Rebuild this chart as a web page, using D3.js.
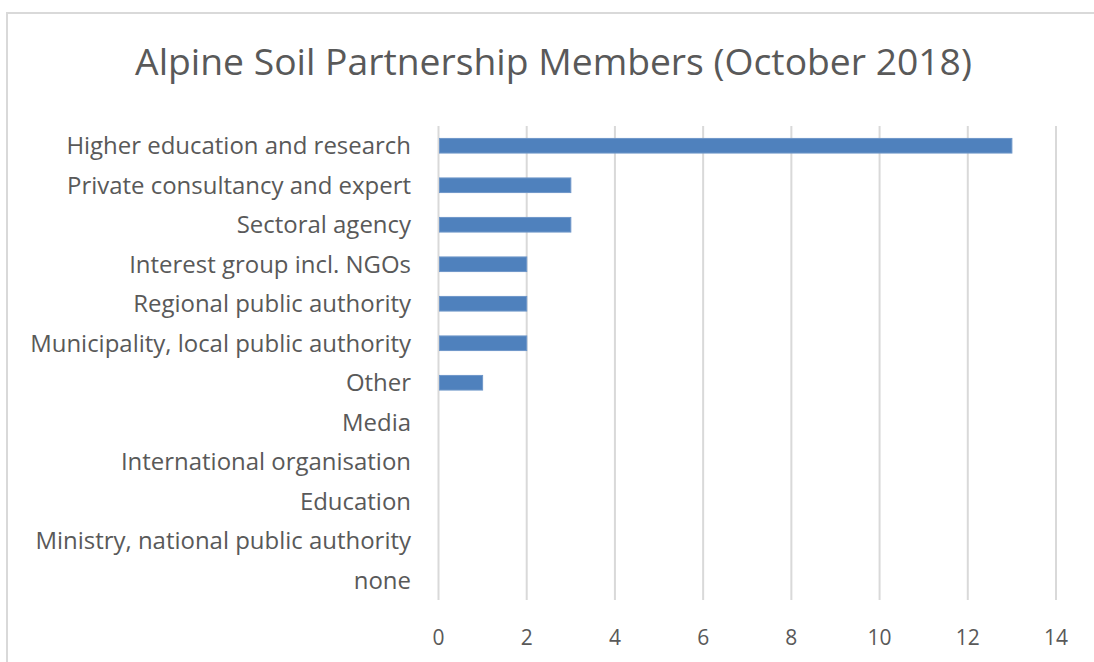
<!DOCTYPE html>
<html>
<head>
<meta charset="utf-8">
<script src="https://cdn.jsdelivr.net/npm/d3@7"></script>
<style>
  body { margin: 0; background: #fff; }
  text { font-family: "Open Sans", sans-serif; fill: #595959; }
</style>
</head>
<body>
<script>
const categories = [
  "Higher education and research",
  "Private consultancy and expert",
  "Sectoral agency",
  "Interest group incl. NGOs",
  "Regional public authority",
  "Municipality, local public authority",
  "Other",
  "Media",
  "International organisation",
  "Education",
  "Ministry, national public authority",
  "none"
];
const members = [13, 3, 3, 2, 2, 2, 1, 0, 0, 0, 0, 0];
const xTicks = [0, 2, 4, 6, 8, 10, 12, 14];
const title = "Alpine Soil Partnership Members (October 2018)";

const w = 1094, h = 662;
const svg = d3.select("body").append("svg")
  .attr("width", w)
  .attr("height", h);

// chart frame (right and bottom edges run off the picture)
svg.append("rect")
  .attr("x", 7).attr("y", 13)
  .attr("width", w + 10).attr("height", h + 10)
  .attr("fill", "none")
  .attr("stroke", "#d9d9d9")
  .attr("stroke-width", 2);

const x = d3.scaleLinear().domain([0, 14]).range([438.5, 1056]);
const y = d3.scaleBand().domain(categories).range([126, 600])
  .paddingInner(0.63).paddingOuter(0.315);

// gridlines
svg.append("g")
  .selectAll("line")
  .data(xTicks)
  .enter().append("line")
  .attr("x1", d => x(d)).attr("x2", d => x(d))
  .attr("y1", 126).attr("y2", 600)
  .attr("stroke", "#d9d9d9")
  .attr("stroke-width", 2);

// bars
svg.append("g")
  .selectAll("rect")
  .data(members)
  .enter().append("rect")
  .filter(d => d > 0)
  .attr("x", x(0) + 1)
  .attr("y", (d, i) => y(categories[i]))
  .attr("width", d => x(d) - x(0) - 1)
  .attr("height", y.bandwidth())
  .attr("fill", "#4f81bd")
  .attr("stroke", "#6f97c9")
  .attr("stroke-width", 1);

// category labels
const labels = svg.append("g")
  .selectAll("text")
  .data(categories)
  .enter().append("text")
  .attr("x", 411)
  .attr("y", d => y(d) + y.bandwidth() / 2)
  .attr("dy", "0.36em")
  .attr("text-anchor", "end")
  .style("font-size", "20px")
  .text(d => d);
const lw = d3.max(labels.nodes(), n => n.getComputedTextLength());
labels.style("font-size", (20 * 381 / lw) + "px");

// x tick labels
svg.append("g")
  .selectAll("text")
  .data(xTicks)
  .enter().append("text")
  .attr("x", d => x(d))
  .attr("y", 645)
  .attr("text-anchor", "middle")
  .style("font-size", "21px")
  .text(d => d);

// title, sized to span the same width as the original
const t = svg.append("text")
  .attr("x", 553.5)
  .attr("y", 75)
  .attr("text-anchor", "middle")
  .style("font-size", "32px")
  .text(title);
const tw = t.node().getComputedTextLength();
t.style("font-size", (32 * 837 / tw) + "px");
</script>
</body>
</html>
